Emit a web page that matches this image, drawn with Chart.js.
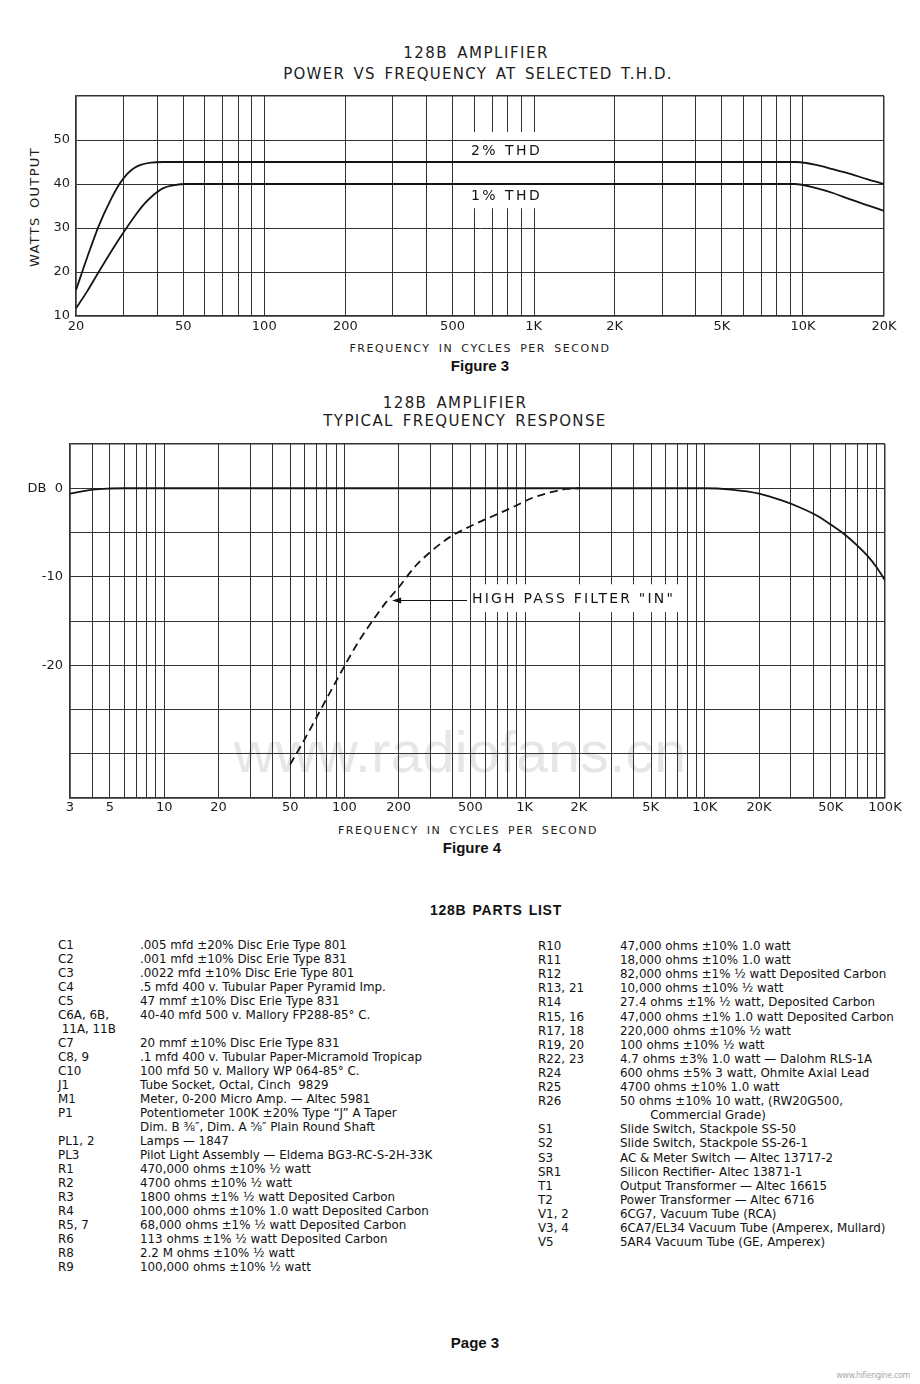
<!DOCTYPE html>
<html><head><meta charset="utf-8">
<script src="https://cdn.jsdelivr.net/npm/chart.js@4.4.1/dist/chart.umd.min.js"></script>
<style>
html,body{margin:0;padding:0;background:#fff;}
body{width:920px;height:1384px;position:relative;overflow:hidden;font-family:"DejaVu Sans",sans-serif;color:#1c1c1c;}
.t{position:absolute;white-space:pre;line-height:1;transform:translate(-50%,-50%);}
.b{font-family:"Liberation Sans",Arial,sans-serif;font-weight:bold;color:#111;}
.wrap{position:absolute;left:0;z-index:1;}
.p{position:absolute;white-space:pre;line-height:1;transform:translateY(-50%);color:#111;}
#wm{color:#e6e6e6;font-family:"Liberation Sans",Arial,sans-serif;font-size:57px;z-index:0;}
</style></head><body>

<div class="t" id="h1a" style="left:476px;top:53px;font-size:15px">128B AMPLIFIER</div>
<div class="t" id="h1b" style="left:478px;top:74px;font-size:15px">POWER VS FREQUENCY AT SELECTED T.H.D.</div>
<div class="t" id="y1t" style="left:34px;top:207px;font-size:13px;transform:translate(-50%,-50%) rotate(-90deg)">WATTS OUTPUT</div>
<div class="t" id="x1t" style="left:480px;top:348px;font-size:11px">FREQUENCY IN CYCLES PER SECOND</div>
<div class="t b" style="left:480px;top:365px;font-size:15px">Figure 3</div>

<div class="t" id="h2a" style="left:455px;top:403px;font-size:15px">128B AMPLIFIER</div>
<div class="t" id="h2b" style="left:465px;top:421px;font-size:15px">TYPICAL FREQUENCY RESPONSE</div>
<div class="t" id="x2t" style="left:468px;top:830px;font-size:11px">FREQUENCY IN CYCLES PER SECOND</div>
<div class="t b" style="left:472px;top:847px;font-size:15px">Figure 4</div>

<div class="t" id="wm" style="left:460px;top:752px">www.radiofans.cn</div>

<div class="wrap" style="top:40px;width:920px;height:340px"><canvas id="c1" width="920" height="340"></canvas></div>
<div class="wrap" style="top:380px;width:920px;height:480px"><canvas id="c2" width="920" height="480"></canvas></div>

<div class="t b" id="pl" style="left:496px;top:910px;font-size:14px">128B PARTS LIST</div>
<div id="parts"></div>
<div class="t b" style="left:475px;top:1342px;font-size:15px">Page 3</div>
<div class="t" id="hf" style="left:873px;top:1376px;font-size:8px;color:#aaa">www.hifiengine.com</div>

<script>
// ===== Figure 3 : power vs frequency =====
const fig3GridX = [20,30,40,50,60,70,80,90,100,200,300,400,500,600,700,800,900,1000,2000,3000,4000,5000,6000,7000,8000,9000,10000,20000];
const fig3LabelValues = [20,50,100,200,500,1000,2000,5000,10000,20000];
const fig3LabelText = ['20','50','100','200','500','1K','2K','5K','10K','20K'];
const fig3YValues = [10,20,30,40,50,60];
const fig3YText = ['10','20','30','40','50',''];
const thd2Freq = [20,22,24.3,26.7,29,31,33,35,38,42,45,100,1000,9500,11300,13000,15000,17300,20000];
const thd2Watts = [15.9,23.3,30.5,36.0,40.0,42.3,43.7,44.4,44.85,45,45,45,45,45,44.3,43.3,42.3,41.1,40];
const thd1Freq = [20,22,24.5,29,33.6,36,38.6,42,46,51.5,100,1000,9300,11300,13000,15000,17300,20000];
const thd1Watts = [11.75,15.6,20.4,27.6,33.3,35.6,37.4,39.0,39.7,40,40,40,40,39.0,37.9,36.5,35.2,33.9];
const fig3SeriesNames = ['2% THD','1% THD'];

// ===== Figure 4 : frequency response =====
const fig4GridX = [3,4,5,6,7,8,9,10,20,30,40,50,60,70,80,90,100,200,300,400,500,600,700,800,900,
  1000,2000,3000,4000,5000,6000,7000,8000,9000,10000,20000,30000,40000,50000,60000,70000,80000,90000,100000];
const fig4LabelValues = [3,5,10,20,50,100,200,500,1000,2000,5000,10000,20000,50000,100000];
const fig4LabelText = ['3','5','10','20','50','100','200','500','1K','2K','5K','10K','20K','50K','100K'];
const fig4YValues = [-35,-30,-25,-20,-15,-10,-5,0,5];
const fig4YText = ['','','','-20','','-10','','DB  0',''];
const respFreq = [3,3.5,4,5,6,10,100,1000,10000,14000,20000,27000,34000,42000,50000,60000,70000,80000,90000,100000];
const respDb = [-0.6,-0.35,-0.15,-0.03,0,0,0,0,0,-0.15,-0.6,-1.4,-2.2,-3.1,-4.1,-5.25,-6.45,-7.65,-8.95,-10.4];
const hpfFreq = [50,60,70,80,90,100,120,150,170,200,250,300,350,400,500,600,730,900,1100,1400,1700,2000];
const hpfDb = [-31.2,-28.4,-25.9,-23.7,-21.8,-20.1,-17.3,-14.4,-12.9,-11.2,-8.7,-7.2,-6.1,-5.3,-4.3,-3.55,-2.8,-1.95,-1.1,-0.45,-0.08,0];
const fig4Annotation = 'HIGH PASS FILTER "IN"';

// ===== Parts list =====
const partsLeftRef = ['C1','C2','C3','C4','C5','C6A, 6B,',' 11A, 11B','C7','C8, 9','C10','J1','M1','P1','','PL1, 2','PL3','R1','R2','R3','R4','R5, 7','R6','R8','R9'];
const partsLeftDesc = ['.005 mfd ±20% Disc Erie Type 801','.001 mfd ±10% Disc Erie Type 831','.0022 mfd ±10% Disc Erie Type 801',
 '.5 mfd 400 v. Tubular Paper Pyramid Imp.','47 mmf ±10% Disc Erie Type 831','40-40 mfd 500 v. Mallory FP288-85° C.','',
 '20 mmf ±10% Disc Erie Type 831','.1 mfd 400 v. Tubular Paper-Micramold Tropicap','100 mfd 50 v. Mallory WP 064-85° C.',
 'Tube Socket, Octal, Cinch  9829','Meter, 0-200 Micro Amp. — Altec 5981','Potentiometer 100K ±20% Type “J” A Taper',
 'Dim. B ⅜″, Dim. A ⅝″ Plain Round Shaft','Lamps — 1847','Pilot Light Assembly — Eldema BG3-RC-S-2H-33K',
 '470,000 ohms ±10% ½ watt','4700 ohms ±10% ½ watt','1800 ohms ±1% ½ watt Deposited Carbon',
 '100,000 ohms ±10% 1.0 watt Deposited Carbon','68,000 ohms ±1% ½ watt Deposited Carbon','113 ohms ±1% ½ watt Deposited Carbon',
 '2.2 M ohms ±10% ½ watt','100,000 ohms ±10% ½ watt'];
const partsRightRef = ['R10','R11','R12','R13, 21','R14','R15, 16','R17, 18','R19, 20','R22, 23','R24','R25','R26','','S1','S2','S3','SR1','T1','T2','V1, 2','V3, 4','V5'];
const partsRightDesc = ['47,000 ohms ±10% 1.0 watt','18,000 ohms ±10% 1.0 watt','82,000 ohms ±1% ½ watt Deposited Carbon',
 '10,000 ohms ±10% ½ watt','27.4 ohms ±1% ½ watt, Deposited Carbon','47,000 ohms ±1% 1.0 watt Deposited Carbon',
 '220,000 ohms ±10% ½ watt','100 ohms ±10% ½ watt','4.7 ohms ±3% 1.0 watt — Dalohm RLS-1A','600 ohms ±5% 3 watt, Ohmite Axial Lead',
 '4700 ohms ±10% 1.0 watt','50 ohms ±10% 10 watt, (RW20G500,','        Commercial Grade)','Slide Switch, Stackpole SS-50',
 'Slide Switch, Stackpole SS-26-1','AC & Meter Switch — Altec 13717-2','Silicon Rectifier- Altec 13871-1',
 'Output Transformer — Altec 16615','Power Transformer — Altec 6716','6CG7, Vacuum Tube (RCA)',
 '6CA7/EL34 Vacuum Tube (Amperex, Mullard)','5AR4 Vacuum Tube (GE, Amperex)'];

// ---------- text fitting helpers ----------
function fitText(id, target){
  const el = document.getElementById(id);
  el.style.letterSpacing='0px'; el.style.wordSpacing='0px';
  const w0 = el.offsetWidth, s = el.textContent;
  const n = s.length, sp = (s.match(/ /g)||[]).length;
  const ls = (target - w0)/(n + 2*sp);
  el.style.letterSpacing = ls+'px'; el.style.wordSpacing = (2*ls)+'px';
}
fitText('h1a',146); fitText('h1b',390); fitText('y1t',120); fitText('x1t',261);
fitText('h2a',145); fitText('h2b',283); fitText('x2t',260); fitText('pl',132);
fitText('wm',453); fitText('hf',74);

// parts list
(function(){
  const probe = document.createElement('span');
  probe.style.cssText='position:absolute;visibility:hidden;white-space:pre;font-size:100px;font-family:"DejaVu Sans"';
  probe.textContent = partsLeftDesc[0]; document.body.appendChild(probe);
  const fs = 100*207/probe.offsetWidth; probe.remove();
  const box = document.getElementById('parts');
  function col(refs, descs, xRef, xDesc, y0, dy){
    refs.forEach((r,i)=>{
      const y = y0 + i*dy;
      const a = document.createElement('div'); a.className='p'; a.style.cssText+=`left:${xRef}px;top:${y}px;font-size:${fs}px`; a.textContent=r; box.appendChild(a);
      const b = document.createElement('div'); b.className='p'; b.style.cssText+=`left:${xDesc}px;top:${y}px;font-size:${fs}px`; b.textContent=descs[i]; box.appendChild(b);
    });
  }
  col(partsLeftRef, partsLeftDesc, 58, 140, 946, 14.0);
  col(partsRightRef, partsRightDesc, 538, 620, 947, 14.1);
})();

// ---------- chart helpers ----------
const GRID = '#333333', INK = '#141414';
const pts = (xs, ys) => xs.map((x,i)=>({x, y: ys[i]}));
const annot = {
  id:'annot',
  beforeDatasetsDraw(chart, args, o){
    const {ctx, chartArea:a, scales:{x,y}} = chart;
    const yTop = y.getPixelForValue(o.gap.yHigh), yBot = y.getPixelForValue(o.gap.yLow);
    ctx.save(); ctx.strokeStyle = GRID; ctx.lineWidth = 1;
    o.gapTicks.forEach(v=>{
      const px = Math.round(x.getPixelForValue(v))+0.5;
      ctx.beginPath(); ctx.moveTo(px,a.top); ctx.lineTo(px,yTop); ctx.moveTo(px,yBot); ctx.lineTo(px,a.bottom); ctx.stroke();
    });
    ctx.restore();
  },
  afterDatasetsDraw(chart, args, o){
    const {ctx, scales:{x,y}} = chart;
    ctx.save();
    ctx.fillStyle = INK; ctx.strokeStyle = INK;
    ctx.font = o.font; ctx.textBaseline='middle'; ctx.textAlign='left';
    if ('letterSpacing' in ctx) ctx.letterSpacing = o.spacing;
    o.labels.forEach(l => ctx.fillText(l.text, x.getPixelForValue(l.x), y.getPixelForValue(l.y)));
    if ('letterSpacing' in ctx) ctx.letterSpacing = '0px';
    if (o.arrow){
      const x0 = x.getPixelForValue(o.arrow.from), x1 = x.getPixelForValue(o.arrow.to);
      const py = Math.round(y.getPixelForValue(o.arrow.y))+0.5;
      ctx.lineWidth = 1.2;
      ctx.beginPath(); ctx.moveTo(x0,py); ctx.lineTo(x1+5,py); ctx.stroke();
      ctx.beginPath(); ctx.moveTo(x1,py); ctx.lineTo(x1+9,py-3); ctx.lineTo(x1+9,py+3); ctx.closePath(); ctx.fill();
    }
    ctx.restore();
  }
};

function makeChart(id, cfg){
  const gapSet = new Set(cfg.gapTicks);
  const xMin = cfg.gridX[0], xMax = cfg.gridX[cfg.gridX.length-1];
  const yMin = cfg.yValues[0], yMax = cfg.yValues[cfg.yValues.length-1];
  return new Chart(document.getElementById(id), {
    type:'line',
    data:{datasets: cfg.datasets},
    options:{
      responsive:false, animation:false, devicePixelRatio:1,
      layout:{padding:cfg.padding},
      plugins:{legend:{display:false}, tooltip:{enabled:false}, annot: cfg.annot},
      elements:{point:{radius:0}, line:{cubicInterpolationMode:'monotone', borderColor:INK, borderWidth:1.8, fill:false}},
      scales:{
        x:{type:'logarithmic', min:xMin, max:xMax,
          afterBuildTicks: s => { s.ticks = cfg.gridX.map(v=>({value:v})); },
          afterFit: s => { s.height = cfg.xHeight; },
          grid:{drawTicks:false, color: c => (c.tick && gapSet.has(c.tick.value)) ? 'rgba(0,0,0,0)' : GRID,
                lineWidth: c => (c.tick && (c.tick.value===xMin||c.tick.value===xMax)) ? 1.5 : 1},
          border:{color:GRID, width:1.5},
          ticks:{autoSkip:false, maxRotation:0, minRotation:0, padding:cfg.xPad, color:'#1c1c1c',
                 font:{family:'DejaVu Sans', size:13},
                 callback: v => { const i = cfg.labelValues.indexOf(v); return i<0 ? '' : cfg.labelText[i]; }}
        },
        y:{type:'linear', min:yMin, max:yMax,
          afterBuildTicks: s => { s.ticks = cfg.yValues.map(v=>({value:v})); },
          afterFit: s => { s.width = cfg.yWidth; },
          grid:{drawTicks:false, color:GRID,
                lineWidth: c => (c.tick && (c.tick.value===yMin||c.tick.value===yMax)) ? 1.5 : 1},
          border:{color:GRID, width:1.5},
          ticks:{padding:cfg.yPad, color:'#1c1c1c', font:{family:'DejaVu Sans', size:13},
                 callback: v => { const i = cfg.yValues.indexOf(v); return i<0 ? '' : cfg.yText[i]; }}
        }
      }
    },
    plugins:[annot]
  });
}

makeChart('c1', {
  gridX: fig3GridX, labelValues: fig3LabelValues, labelText: fig3LabelText,
  yValues: fig3YValues, yText: fig3YText,
  padding:{top:56, right:36, left:0, bottom:0}, xHeight:64, yWidth:76, xPad:3, yPad:6,
  gapTicks:[600,700,800,900,1000],
  datasets:[
    {label:fig3SeriesNames[0], data: pts(thd2Freq, thd2Watts)},
    {label:fig3SeriesNames[1], data: pts(thd1Freq, thd1Watts)}
  ],
  annot:{gap:{yLow:34.5, yHigh:51.8}, gapTicks:[600,700,800,900,1000],
    font:'14px "DejaVu Sans"', spacing:'2.5px',
    labels:[{text:fig3SeriesNames[0], x:585, y:47.5},{text:fig3SeriesNames[1], x:585, y:37.3}]}
});

makeChart('c2', {
  gridX: fig4GridX, labelValues: fig4LabelValues, labelText: fig4LabelText,
  yValues: fig4YValues, yText: fig4YText,
  padding:{top:64, right:35, left:0, bottom:0}, xHeight:62, yWidth:70, xPad:2, yPad:7,
  gapTicks:[600,700,800,900,1000,2000,3000,4000,5000,6000,7000],
  datasets:[
    {label:'Response', data: pts(respFreq, respDb)},
    {label:'High pass filter in', data: pts(hpfFreq, hpfDb), borderDash:[8,5]}
  ],
  annot:{gap:{yLow:-14.0, yHigh:-10.85}, gapTicks:[600,700,800,900,1000,2000,3000,4000,5000,6000,7000],
    font:'14px "DejaVu Sans"', spacing:'2.2px',
    labels:[{text:fig4Annotation, x:510, y:-12.6}],
    arrow:{from:479, to:184, y:-12.6}}
});
</script>
</body></html>
